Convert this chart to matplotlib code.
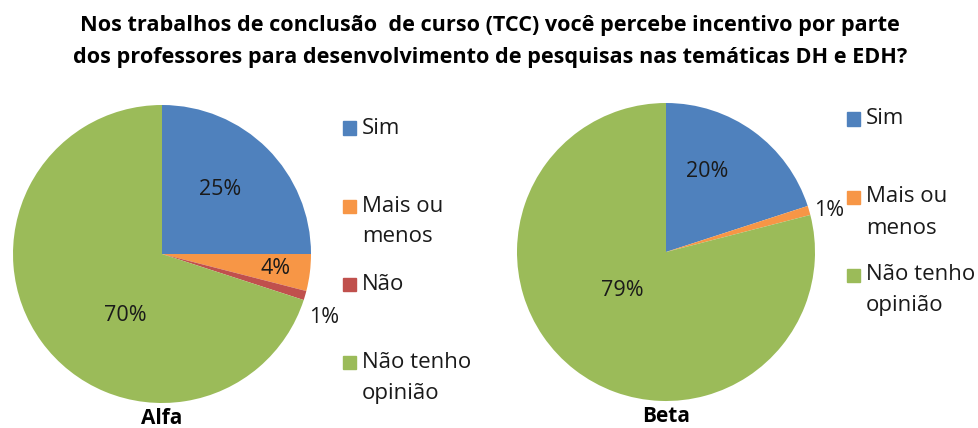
import numpy as np
import matplotlib
matplotlib.use('Agg')
import matplotlib.pyplot as plt
from matplotlib.patches import Rectangle

plt.rcParams['font.family'] = ['Open Sans', 'DejaVu Sans']

# -------------------------------------------------
# Data
# -------------------------------------------------
title_lines = [
    "Nos trabalhos de conclusão  de curso (TCC) você percebe incentivo por parte",
    "dos professores para desenvolvimento de pesquisas nas temáticas DH e EDH?",
]

alfa_labels = ['Sim', 'Mais ou\nmenos', 'Não', 'Não tenho\nopinião']
alfa_values = [25, 4, 1, 70]

beta_labels = ['Sim', 'Mais ou\nmenos', 'Não tenho\nopinião']
beta_values = [20, 1, 79]

palette = {
    'Sim': '#4F81BD',
    'Mais ou\nmenos': '#F79646',
    'Não': '#C0504D',
    'Não tenho\nopinião': '#9BBB59',
}

# label placement (radius fraction, angle shift from wedge middle in degrees)
alfa_label_pos = [(0.58, 3), (0.77, 0), (1.17, -5), (0.48, 23)]
beta_label_pos = [(0.61, 9), (1.13, -2), (0.39, -11)]

W, H = 979, 428
fig = plt.figure(figsize=(W / 100, H / 100), dpi=100)
fig.patch.set_facecolor('white')


def px_axes(cx, cy, r):
    return fig.add_axes([(cx - r) / W, (H - cy - r) / H, 2 * r / W, 2 * r / H])


def draw_pie(ax, values, labels, label_pos, name):
    wedges, _ = ax.pie(values, colors=[palette[l] for l in labels],
                       startangle=90, counterclock=False,
                       wedgeprops=dict(linewidth=0))
    for w, v, (d, shift) in zip(wedges, values, label_pos):
        mid = np.deg2rad((w.theta1 + w.theta2) / 2 + shift)
        ax.text(d * np.cos(mid), d * np.sin(mid), f'{v}%',
                ha='center', va='center', fontsize=15.5, color='#1a1a1a')
    ax.text(0, -1.035, name, ha='center', va='top', fontsize=15,
            fontweight='bold', color='black')
    ax.set_xlim(-1, 1)
    ax.set_ylim(-1, 1)
    ax.set_aspect('equal')
    ax.axis('off')


def draw_legend(xm, xt, y0, step, labels):
    for i, lab in enumerate(labels):
        y = y0 + i * step
        fig.patches.append(Rectangle(((xm - 6.5) / W, (H - y - 6.5) / H), 13 / W, 13 / H,
                                     transform=fig.transFigure, color=palette[lab]))
        for j, line in enumerate(lab.split('\n')):
            fig.text(xt / W, (H - y - j * 31) / H, line, ha='left', va='center',
                     fontsize=16, color='#1a1a1a')


ax1 = px_axes(162, 254, 149)
draw_pie(ax1, alfa_values, alfa_labels, alfa_label_pos, 'Alfa')
draw_legend(349, 362, 128, 78, alfa_labels)

ax2 = px_axes(666, 252, 149)
draw_pie(ax2, beta_values, beta_labels, beta_label_pos, 'Beta')
draw_legend(854, 866, 119, 78, beta_labels)

for i, line in enumerate(title_lines):
    fig.text(490 / W, (H - 25 - i * 33) / H, line, ha='center', va='center',
             fontsize=15.6, fontweight='bold', color='black')

fig.savefig('out.png', dpi=100)
